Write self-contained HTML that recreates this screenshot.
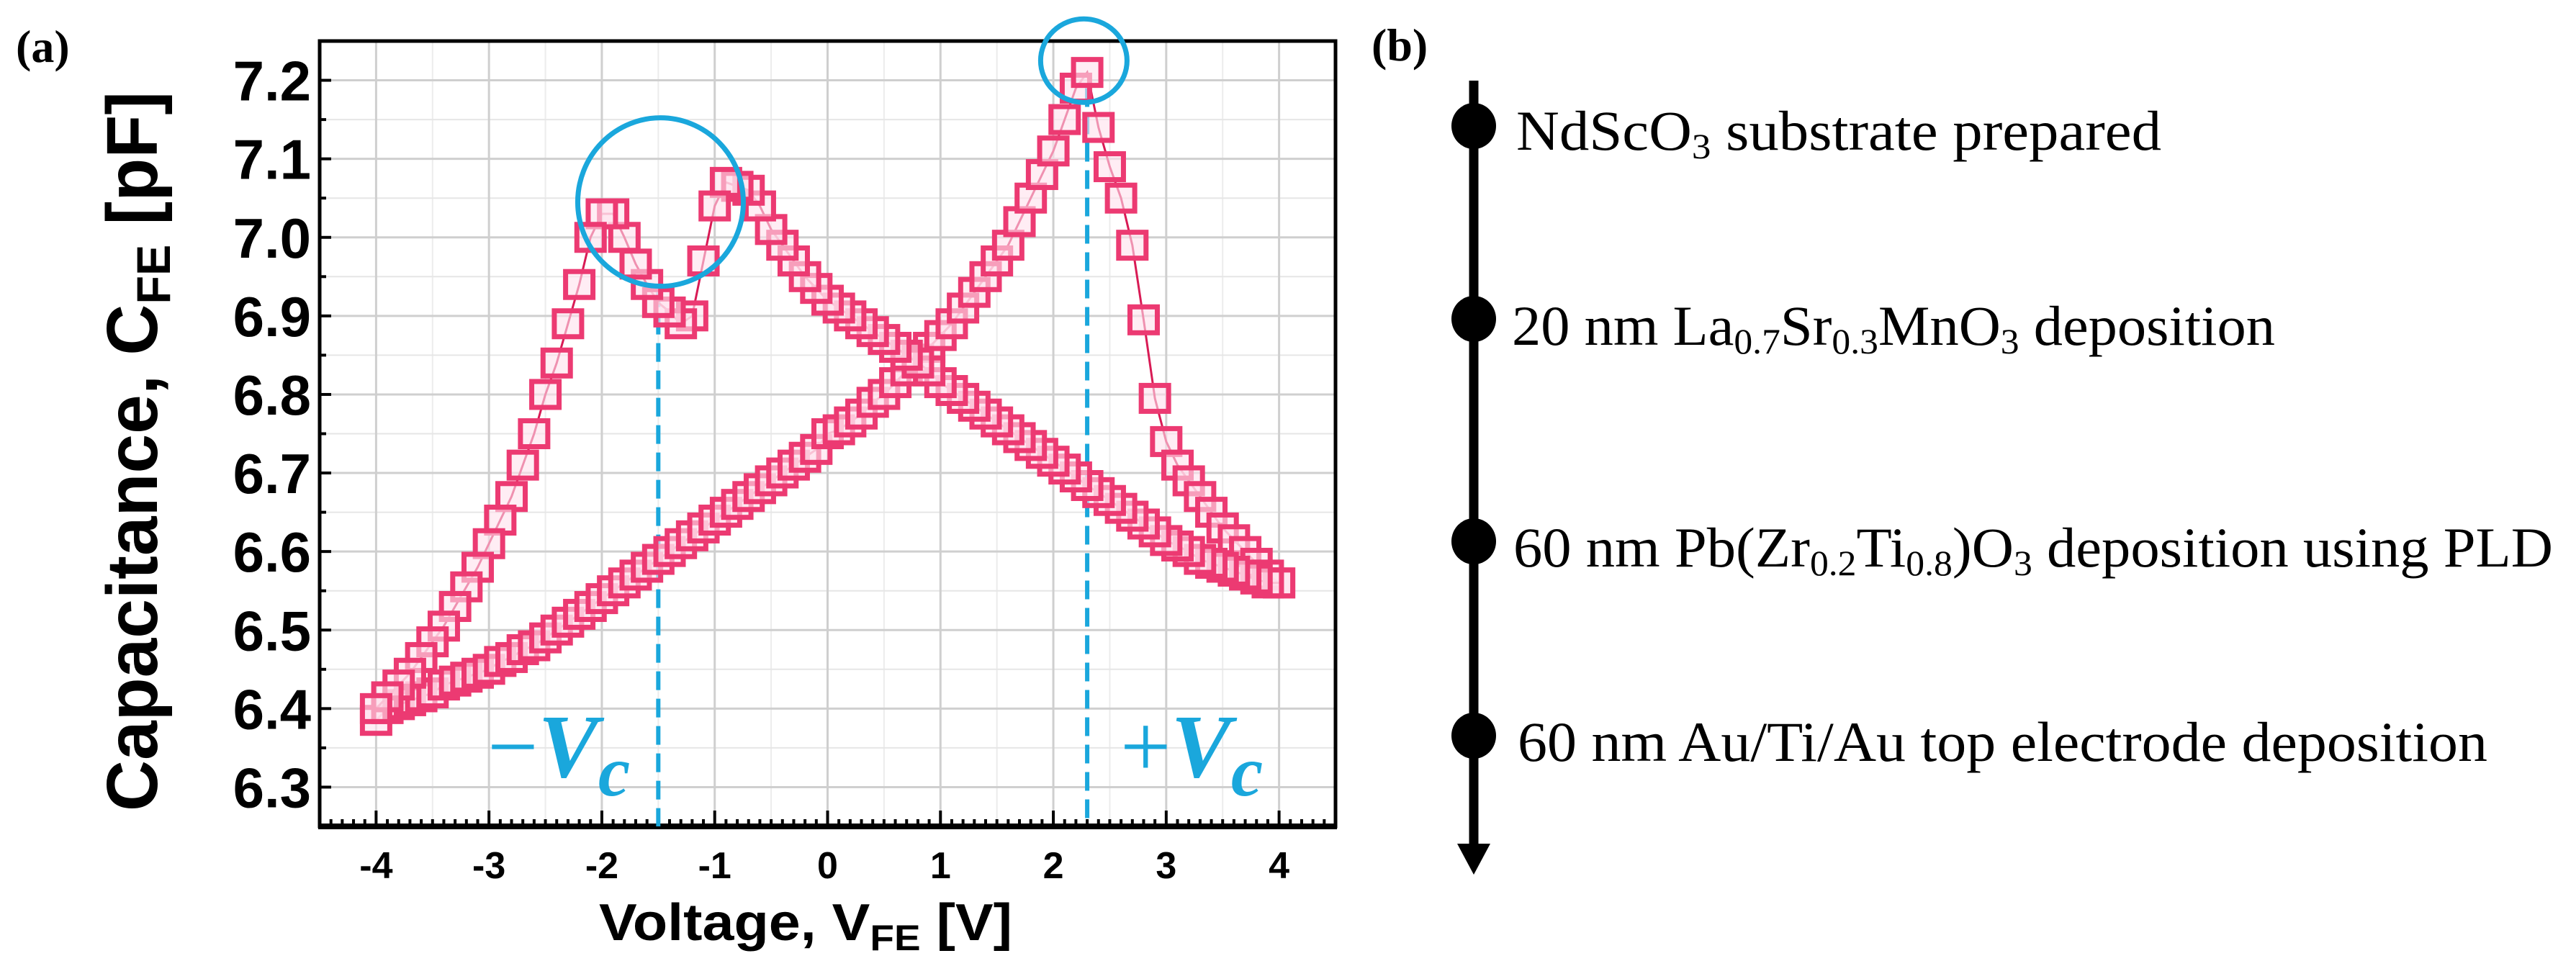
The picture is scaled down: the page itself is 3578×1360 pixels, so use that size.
<!DOCTYPE html>
<html><head><meta charset="utf-8"><style>
html,body{margin:0;padding:0;background:#fff;}
svg{display:block;}
</style></head><body>
<svg id="fig" width="3578" height="1360" viewBox="0 0 3578 1360" xmlns="http://www.w3.org/2000/svg">
<rect width="3578" height="1360" fill="#fff"/>
<text x="22" y="86" font-family="Liberation Serif, serif" font-weight="bold" font-size="64">(a)</text>
<g id="grid"></g>
<g id="axes"></g>
<g id="series"></g>
<g id="annot"></g>
<text transform="translate(218,1127) rotate(-90)" font-family="Liberation Sans, sans-serif" font-weight="bold" font-size="100" textLength="1000" lengthAdjust="spacingAndGlyphs">Capacitance, C<tspan font-size="66" dy="18">FE</tspan><tspan dy="-18"> [pF]</tspan></text>
<text x="832" y="1306" font-family="Liberation Sans, sans-serif" font-weight="bold" font-size="72" textLength="574" lengthAdjust="spacingAndGlyphs">Voltage, V<tspan font-size="50" dy="14">FE</tspan><tspan dy="-14"> [V]</tspan></text>

<text x="1905" y="84" font-family="Liberation Serif, serif" font-weight="bold" font-size="64">(b)</text>
<g>
<line x1="2047" y1="112" x2="2047" y2="1180" stroke="#000" stroke-width="13"/>
<polygon points="2024,1172 2070,1172 2047,1215" fill="#000"/>
<ellipse cx="2047" cy="175" rx="31" ry="32" fill="#000"/>
<ellipse cx="2047" cy="443" rx="31" ry="32" fill="#000"/>
<ellipse cx="2047" cy="752" rx="31" ry="32" fill="#000"/>
<ellipse cx="2047" cy="1022" rx="31" ry="32" fill="#000"/>
<g font-family="Liberation Serif, serif" font-size="78" fill="#000">
<text x="2106" y="208" textLength="896" lengthAdjust="spacingAndGlyphs">NdScO<tspan font-size="50" dy="12">3</tspan><tspan dy="-12"> substrate prepared</tspan></text>
<text x="2100" y="479" textLength="1060" lengthAdjust="spacingAndGlyphs">20 nm La<tspan font-size="50" dy="12">0.7</tspan><tspan dy="-12">Sr</tspan><tspan font-size="50" dy="12">0.3</tspan><tspan dy="-12">MnO</tspan><tspan font-size="50" dy="12">3</tspan><tspan dy="-12"> deposition</tspan></text>
<text x="2102" y="787" textLength="1444" lengthAdjust="spacingAndGlyphs">60 nm Pb(Zr<tspan font-size="50" dy="12">0.2</tspan><tspan dy="-12">Ti</tspan><tspan font-size="50" dy="12">0.8</tspan><tspan dy="-12">)O</tspan><tspan font-size="50" dy="12">3</tspan><tspan dy="-12"> deposition using PLD</tspan></text>
<text x="2108" y="1057" textLength="1347" lengthAdjust="spacingAndGlyphs">60 nm Au/Ti/Au top electrode deposition</text>
</g>
</g>
</svg>
<script>
const voltUp = [-4.0,-3.9,-3.8,-3.7,-3.6,-3.5,-3.4,-3.3,-3.2,-3.1,-3.0,-2.9,-2.8,-2.7,-2.6,-2.5,-2.4,-2.3,-2.2,-2.1,-2.0,-1.9,-1.8,-1.7,-1.6,-1.5,-1.4,-1.3,-1.2,-1.1,-1.0,-0.9,-0.8,-0.7,-0.6,-0.5,-0.4,-0.3,-0.2,-0.1,0,0.1,0.2,0.3,0.4,0.5,0.6,0.7,0.8,0.9,1.0,1.1,1.2,1.3,1.4,1.5,1.6,1.7,1.8,1.9,2.0,2.1,2.2,2.3,2.4,2.5,2.6,2.7,2.8,2.9,3.0,3.1,3.2,3.3,3.4,3.5,3.6,3.7,3.8,3.9,4.0];
const capUp = [6.385,6.40,6.405,6.41,6.415,6.42,6.43,6.435,6.44,6.445,6.45,6.46,6.465,6.475,6.48,6.49,6.50,6.51,6.52,6.53,6.54,6.55,6.56,6.57,6.58,6.59,6.60,6.61,6.62,6.63,6.64,6.65,6.66,6.67,6.68,6.69,6.70,6.71,6.72,6.73,6.75,6.755,6.765,6.775,6.79,6.80,6.815,6.83,6.845,6.86,6.875,6.89,6.91,6.93,6.95,6.97,6.99,7.02,7.05,7.08,7.11,7.15,7.19,7.21,7.14,7.09,7.05,6.99,6.895,6.795,6.74,6.71,6.69,6.67,6.65,6.63,6.615,6.60,6.585,6.57,6.56];
const voltDown = [4.0,3.9,3.8,3.7,3.6,3.5,3.4,3.3,3.2,3.1,3.0,2.9,2.8,2.7,2.6,2.5,2.4,2.3,2.2,2.1,2.0,1.9,1.8,1.7,1.6,1.5,1.4,1.3,1.2,1.1,1.0,0.9,0.8,0.7,0.6,0.5,0.4,0.3,0.2,0.1,0,-0.1,-0.2,-0.3,-0.4,-0.5,-0.6,-0.7,-0.8,-0.9,-1.0,-1.1,-1.2,-1.3,-1.4,-1.5,-1.6,-1.7,-1.8,-1.9,-2.0,-2.1,-2.2,-2.3,-2.4,-2.5,-2.6,-2.7,-2.8,-2.9,-3.0,-3.1,-3.2,-3.3,-3.4,-3.5,-3.6,-3.7,-3.8,-3.9,-4.0];
const capDown = [6.56,6.56,6.565,6.57,6.575,6.58,6.585,6.59,6.60,6.607,6.614,6.625,6.635,6.645,6.655,6.665,6.675,6.684,6.695,6.705,6.715,6.725,6.735,6.745,6.755,6.765,6.775,6.785,6.795,6.805,6.815,6.83,6.84,6.85,6.86,6.87,6.88,6.89,6.90,6.91,6.92,6.935,6.95,6.97,6.99,7.01,7.04,7.06,7.065,7.07,7.04,6.97,6.90,6.89,6.905,6.917,6.94,6.966,7.0,7.03,7.03,7.0,6.94,6.89,6.84,6.80,6.75,6.71,6.67,6.64,6.61,6.58,6.555,6.53,6.505,6.485,6.465,6.445,6.43,6.415,6.40];
const xTicks = [-4,-3,-2,-1,0,1,2,3,4];
const xTickLabels = ["-4","-3","-2","-1","0","1","2","3","4"];
const yTicks = [6.3,6.4,6.5,6.6,6.7,6.8,6.9,7.0,7.1,7.2];
const yTickLabels = ["6.3","6.4","6.5","6.6","6.7","6.8","6.9","7.0","7.1","7.2"];
const coerciveV = [-1.5, 2.3];
const coerciveCap = [6.935, 7.19];

const NS = "http://www.w3.org/2000/svg";
const PL = 444, PR = 1855, PT = 57, PB = 1148;
const XMIN = -4.5, XMAX = 4.5, YMIN = 6.25, YMAX = 7.25;
function sx(v){ return PL + (v - XMIN) / (XMAX - XMIN) * (PR - PL); }
function sy(c){ return PB - (c - YMIN) / (YMAX - YMIN) * (PB - PT); }
function mk(tag, attrs, parent){ const e = document.createElementNS(NS, tag); for (const k in attrs) e.setAttribute(k, attrs[k]); parent.appendChild(e); return e; }

const grid = document.getElementById('grid');
const axes = document.getElementById('axes');
const series = document.getElementById('series');
const annot = document.getElementById('annot');

for (let i = -9; i <= 9; i++) {
  const v = i / 2;
  if (Number.isInteger(v)) continue;
  const l = mk('line', {x1: sx(v), x2: sx(v), y1: PT, y2: PB, stroke: '#ececec', 'stroke-width': 2}, grid);
  
  
}
for (let i = 0; i <= 20; i++) {
  const c = 6.25 + i * 0.05;
  if (i % 2 === 1) continue;
  const l = mk('line', {x1: PL, x2: PR, y1: sy(c), y2: sy(c), stroke: '#e6e6e6', 'stroke-width': 2}, grid);
  
  
}
xTicks.forEach(v => {
  const l = mk('line', {x1: sx(v), x2: sx(v), y1: PT, y2: PB, stroke: '#cfcfcf', 'stroke-width': 3}, grid);
  
  
});
yTicks.forEach(c => {
  const l = mk('line', {x1: PL, x2: PR, y1: sy(c), y2: sy(c), stroke: '#cfcfcf', 'stroke-width': 3}, grid);
  
  
});

for (let i = -45; i <= 45; i++) {
  const v = i / 10;
  const major = (i % 10 === 0);
  const t = mk('line', {x1: sx(v), x2: sx(v), y1: PB, y2: PB - (major ? 22 : 10), stroke: '#000', 'stroke-width': 4}, axes);
  
  
}
for (let i = 0; i <= 20; i++) {
  const c = 6.25 + i * 0.05;
  const major = (i % 2 === 1);
  const t = mk('line', {x1: PL, x2: PL + (major ? 16 : 9), y1: sy(c), y2: sy(c), stroke: '#000', 'stroke-width': 4}, axes);
  
  
}
const frame = mk('rect', {x: PL, y: PT, width: PR - PL, height: PB - PT, fill: 'none', stroke: '#000', 'stroke-width': 5}, axes);


const xb = mk('line', {x1: PL - 2, x2: PR + 2, y1: PB, y2: PB, stroke: '#000', 'stroke-width': 8}, axes);



xTicks.forEach((v, i) => {
  const t = mk('text', {x: sx(v), y: 1220, 'text-anchor': 'middle', 'font-family': 'Liberation Sans, sans-serif', 'font-weight': 'bold', 'font-size': 52}, axes);
  t.textContent = xTickLabels[i];
  
  
});
yTicks.forEach((c, i) => {
  const t = mk('text', {x: 432, y: sy(c) + 28, 'text-anchor': 'end', 'font-family': 'Liberation Sans, sans-serif', 'font-weight': 'bold', 'font-size': 78}, axes);
  t.textContent = yTickLabels[i];
  
  
});

coerciveV.forEach((v, i) => {
  const d = mk('line', {x1: sx(v), x2: sx(v), y1: sy(coerciveCap[i]), y2: PB, stroke: '#1aa7dc', 'stroke-width': 6, 'stroke-dasharray': '26 12'}, series);
  
  
});

function drawBranch(vs, cs, name) {
  const g = mk('g', {}, series);
  
  
  const pts = vs.map((v, i) => sx(v) + ',' + sy(cs[i])).join(' ');
  const pl = mk('polyline', {points: pts, fill: 'none', stroke: '#d81b55', 'stroke-width': 3}, g);
  
  
  vs.forEach((v, i) => {
    const r = mk('rect', {x: sx(v) - 19, y: sy(cs[i]) - 18, width: 38, height: 36, fill: 'rgba(255,225,236,0.6)', stroke: '#ec3a72', 'stroke-width': 7}, g);
    
    
  });
}
drawBranch(voltUp, capUp, 'sweep-up');
drawBranch(voltDown, capDown, 'sweep-down');

const c1 = mk('ellipse', {cx: sx(-1.48), cy: sy(7.045), rx: 115, ry: 117, fill: 'none', stroke: '#1aa7dc', 'stroke-width': 7}, annot);


const c2 = mk('ellipse', {cx: sx(2.27), cy: sy(7.225), rx: 60, ry: 58, fill: 'none', stroke: '#1aa7dc', 'stroke-width': 7}, annot);



function vcLabel(x, sign, name) {
  const t = mk('text', {x: x, y: 1079, fill: '#1aa7dc', 'font-family': 'Liberation Serif, serif', 'font-weight': 'bold', 'font-size': 125}, annot);
  
  
  const s = mk('tspan', {'font-weight': 'normal'}, t); s.textContent = sign;
  const v = mk('tspan', {'font-style': 'italic'}, t); v.textContent = 'V';
  const c = mk('tspan', {'font-style': 'italic', dy: 26, 'font-size': 100}, t); c.textContent = 'c';
}
vcLabel(677, '\u2212', 'neg-vc-label');
vcLabel(1556, '+', 'pos-vc-label');
</script>
</body></html>
